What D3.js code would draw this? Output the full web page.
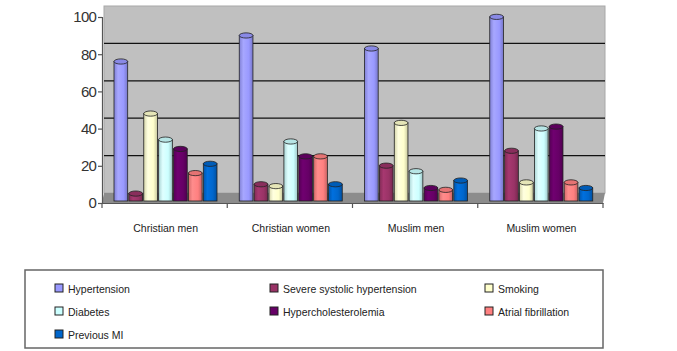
<!DOCTYPE html>
<html>
<head>
<meta charset="utf-8">
<script src="https://cdn.jsdelivr.net/npm/d3@7"></script>
<style>
  html, body { margin: 0; padding: 0; background: #fff; }
  svg { display: block; }
</style>
</head>
<body>
<svg id="chart" width="677" height="351"></svg>
<script>
// Risk factor prevalence (%) by group
const categories = ["Christian men", "Christian women", "Muslim men", "Muslim women"];
const seriesNames = ["Hypertension", "Severe systolic hypertension", "Smoking", "Diabetes",
                     "Hypercholesterolemia", "Atrial fibrillation", "Previous MI"];
const hypertension   = [75, 89, 82, 99];
const severeSystolic = [4, 9, 19, 27];
const smoking        = [47, 8, 42, 10];
const diabetes       = [33, 32, 16, 39];
const hyperchol      = [28, 24, 7, 40];
const atrialFib      = [15, 24, 6, 10];
const previousMI     = [20, 9, 11, 7];
const yTicks = [0, 20, 40, 60, 80, 100];

const seriesValues = [hypertension, severeSystolic, smoking, diabetes, hyperchol, atrialFib, previousMI];
const colors = ["#9999ff", "#993366", "#ffffcc", "#ccffff", "#660066", "#ff8080", "#0066cc"];

const svg = d3.select("#chart");
const defs = svg.append("defs");

// Scales: axis (front edge), wall (back, lifted by depth), bars (mid depth)
const yAxisScale = d3.scaleLinear().domain([0, 100]).range([203, 17]);
const yWall = d3.scaleLinear().domain([0, 100]).range([193, 6]);
const yBar = d3.scaleLinear().domain([0, 100]).range([201, 15]);
const x0 = d3.scaleBand().domain(categories).range([102, 603]);
const x1 = d3.scaleBand().domain(seriesNames).range([12, 115]).paddingInner(0.08);

// Back wall
svg.append("rect")
  .attr("x", 104).attr("y", yWall(100))
  .attr("width", 501).attr("height", yWall(0) - yWall(100))
  .attr("fill", "#c0c0c0").attr("stroke", "#a8a8a8").attr("stroke-width", 1);

// Floor
svg.append("path")
  .attr("d", `M104,${yWall(0)} L605,${yWall(0)} L603,203 L102,203 Z`)
  .attr("fill", "#8c8c8c");

// Gridlines on the wall
svg.append("g").selectAll("line")
  .data(yTicks.filter(t => t > 0 && t < 100))
  .join("line")
  .attr("x1", 104).attr("x2", 605)
  .attr("y1", d => yWall(d)).attr("y2", d => yWall(d))
  .attr("stroke", "#111").attr("stroke-width", 1.3);

// Cylinder shading gradients
colors.forEach((c, i) => {
  const g = defs.append("linearGradient").attr("id", "cyl" + i)
    .attr("x1", "0%").attr("x2", "100%").attr("y1", "0%").attr("y2", "0%");
  const base = d3.color(c);
  g.append("stop").attr("offset", "0%").attr("stop-color", base.darker(0.5));
  g.append("stop").attr("offset", "30%").attr("stop-color", base.brighter(0.25));
  g.append("stop").attr("offset", "70%").attr("stop-color", base);
  g.append("stop").attr("offset", "100%").attr("stop-color", base.darker(0.7));
});

// Bars drawn as cylinders
const groups = svg.append("g").selectAll("g")
  .data(categories)
  .join("g")
  .attr("transform", d => `translate(${x0(d)},0)`);

groups.each(function(cat, ci) {
  const g = d3.select(this);
  seriesNames.forEach((s, si) => {
    const v = seriesValues[si][ci];
    const bx = x1(s), bw = x1.bandwidth();
    const top = yBar(v), bottom = yBar(0);
    g.append("rect")
      .attr("x", bx).attr("y", top)
      .attr("width", bw).attr("height", bottom - top)
      .attr("fill", `url(#cyl${si})`)
      .attr("stroke", "#222").attr("stroke-width", 0.8);
    g.append("ellipse")
      .attr("cx", bx + bw / 2).attr("cy", top)
      .attr("rx", bw / 2).attr("ry", 2.6)
      .attr("fill", d3.color(colors[si]).darker(0.3))
      .attr("stroke", "#222").attr("stroke-width", 0.8);
  });
});

// Y axis
const yAxis = d3.axisLeft(yAxisScale).tickValues(yTicks).tickSize(4).tickPadding(2);
const yg = svg.append("g").attr("transform", "translate(102,0)").call(yAxis);
yg.select(".domain").attr("stroke", "#555").attr("stroke-width", 1.2);
yg.selectAll(".tick line").attr("stroke", "#555").attr("stroke-width", 1.2);
yg.selectAll("text")
  .attr("font-family", "Liberation Sans, Arial, sans-serif")
  .attr("font-size", 15).attr("fill", "#333").attr("letter-spacing", -0.8);

// X axis
const xAxis = d3.axisBottom(x0).tickSize(0).tickPadding(22);
const xg = svg.append("g").attr("transform", "translate(0,203)").call(xAxis);
xg.select(".domain").attr("stroke", "#555").attr("stroke-width", 1.2);
xg.selectAll("text")
  .attr("font-family", "Liberation Sans, Arial, sans-serif")
  .attr("font-size", 10.5).attr("fill", "#222").attr("dx", 1);
xg.append("g").selectAll("line")
  .data(categories.map(c => x0(c)).concat([603]))
  .join("line")
  .attr("x1", d => d).attr("x2", d => d)
  .attr("y1", 0).attr("y2", 5)
  .attr("stroke", "#555").attr("stroke-width", 1.2);

// Legend
svg.append("rect")
  .attr("x", 25).attr("y", 270).attr("width", 578).attr("height", 78)
  .attr("fill", "#fff").attr("stroke", "#666").attr("stroke-width", 1.5);

const colX = [55, 270, 485];
const rowY = [290, 313, 336];
const legend = svg.append("g").selectAll("g")
  .data(seriesNames)
  .join("g")
  .attr("transform", (d, i) => `translate(${colX[i % 3]},${rowY[Math.floor(i / 3)]})`);
legend.append("rect")
  .attr("x", 0).attr("y", -6).attr("width", 8).attr("height", 8)
  .attr("fill", (d, i) => colors[i]).attr("stroke", "#222").attr("stroke-width", 1);
legend.append("text")
  .attr("x", 13).attr("y", 3)
  .attr("font-family", "Liberation Sans, Arial, sans-serif")
  .attr("font-size", 10.5).attr("fill", "#222")
  .text(d => d);
</script>
</body>
</html>
